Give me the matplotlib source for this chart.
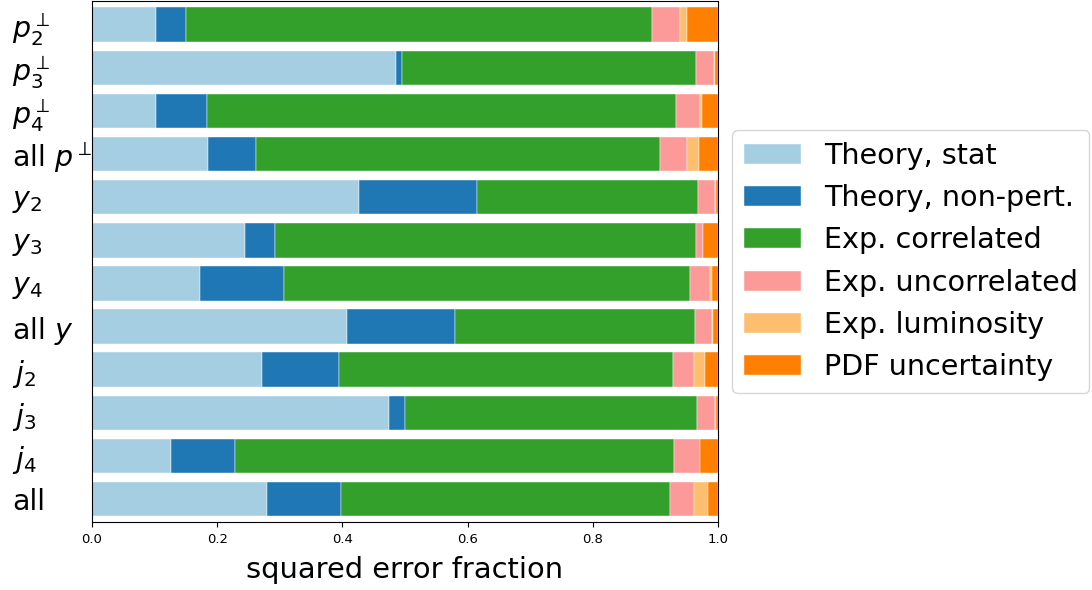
import matplotlib
matplotlib.use("Agg")
import matplotlib.pyplot as plt
import numpy as np

categories = [r"$p_2^\perp$", r"$p_3^\perp$", r"$p_4^\perp$", r"all $p^\perp$",
              r"$y_2$", r"$y_3$", r"$y_4$", r"all $y$",
              r"$j_2$", r"$j_3$", r"$j_4$", "all"]

series_names = ["Theory, stat", "Theory, non-pert.", "Exp. correlated",
                "Exp. uncorrelated", "Exp. luminosity", "PDF uncertainty"]

theory_stat = [0.103, 0.485, 0.103, 0.185, 0.426, 0.245, 0.173, 0.408, 0.272, 0.475, 0.126, 0.280]
theory_nonpert = [0.047, 0.010, 0.080, 0.077, 0.189, 0.048, 0.133, 0.172, 0.123, 0.025, 0.103, 0.118]
exp_correlated = [0.745, 0.470, 0.750, 0.645, 0.353, 0.672, 0.650, 0.383, 0.533, 0.466, 0.701, 0.525]
exp_uncorrelated = [0.045, 0.029, 0.039, 0.044, 0.027, 0.011, 0.031, 0.027, 0.033, 0.029, 0.041, 0.038]
exp_luminosity = [0.011, 0.001, 0.002, 0.018, 0.002, 0.000, 0.004, 0.002, 0.018, 0.002, 0.000, 0.023]
pdf_uncertainty = [0.049, 0.005, 0.026, 0.031, 0.003, 0.024, 0.009, 0.008, 0.021, 0.003, 0.029, 0.016]

xticks = [0.0, 0.2, 0.4, 0.6, 0.8, 1.0]

series = [theory_stat, theory_nonpert, exp_correlated,
          exp_uncorrelated, exp_luminosity, pdf_uncertainty]
colors = ["#a6cee3", "#1f78b4", "#33a02c", "#fb9a99", "#fdbf6f", "#ff7f00"]

fig = plt.figure(figsize=(10.92, 5.90), dpi=100)
ax = fig.add_axes([0.0842, 0.1153, 0.5733, 0.8830])

y = np.arange(len(categories))
left = np.zeros(len(categories))
for name, vals, col in zip(series_names, series, colors):
    vals = np.asarray(vals)
    ax.barh(y, vals, left=left, height=0.8, color=col, label=name,
            edgecolor="white", linewidth=0.3)
    left += vals

ax.set_xlim(0, 1)
ax.set_ylim(11.53, -0.55)
ax.set_yticks(y)
ax.set_yticklabels(categories, fontsize=20.5)
for lab in ax.get_yticklabels():
    lab.set_horizontalalignment("left")
ax.tick_params(axis="y", length=0, pad=57.6)
ax.set_xticks(xticks)
ax.set_xticklabels([f"{t:.1f}" for t in xticks], fontsize=9.5)
ax.tick_params(axis="x", pad=4.5)
ax.set_xlabel("squared error fraction", fontsize=20.8, labelpad=7)

ax.legend(loc="center left", bbox_to_anchor=(1.0, 0.5), fontsize=20.6)

fig.savefig("out.png", dpi=100)
